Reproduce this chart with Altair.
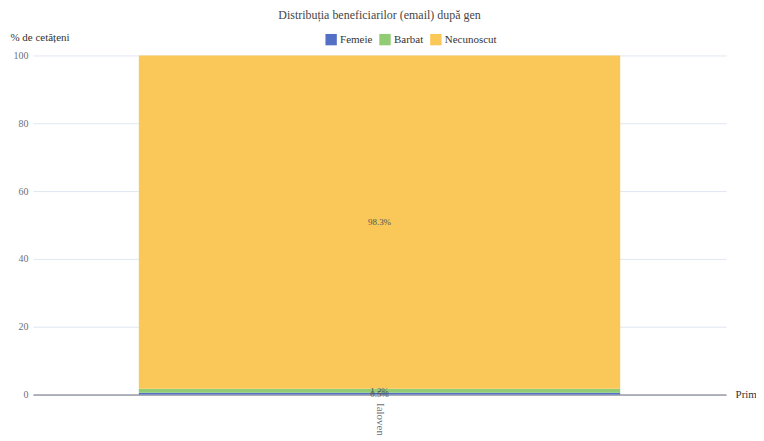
import altair as alt
import pandas as pd

categories = ["Ialoveni"]
series = ["Femeie", "Barbat", "Necunoscut"]
values = [0.5, 1.2, 98.3]
colors = ["#5470c6", "#91cc75", "#fac858"]

df = pd.DataFrame({
    "cat": [categories[0]] * len(series),
    "gen": series,
    "val": values,
    "ord": list(range(len(series))),
})
df["lbl"] = [f"{v}%" for v in values]

FONT = "Liberation Serif"

base = alt.Chart(df).transform_stack(
    stack="val", groupby=["cat"], as_=["v0", "v1"], sort=[alt.SortField("ord", order="ascending")]
).transform_calculate(vm="(datum.v0 + datum.v1) / 2")

xscale = alt.Scale(paddingInner=0, paddingOuter=0.22)
yscale = alt.Scale(domain=[0, 100])

xenc = alt.X("cat:N", title="Primăria", scale=xscale,
             axis=alt.Axis(labelAngle=90, labelAlign="left", labelBaseline="middle",
                           labelFont=FONT, labelFontSize=11, labelColor="#6E7079",
                           labelPadding=8, ticks=False, domainColor="#6E7079", grid=False,
                           titleFont=FONT, titleFontSize=11, titleFontWeight="normal",
                           titleColor="#333333", titleX=704, titleY=0,
                           titleAlign="left", titleBaseline="middle", titleAngle=0))

bars = base.mark_bar().encode(
    x=xenc,
    y=alt.Y("v0:Q", title="% de cetățeni", scale=yscale,
            axis=alt.Axis(values=[0, 20, 40, 60, 80, 100], grid=True, gridColor="#E0E6F1",
                          domain=False, ticks=False, labelFont=FONT, labelFontSize=10,
                          labelColor="#6E7079", labelPadding=5,
                          titleFont=FONT, titleFontSize=11, titleFontWeight="normal",
                          titleColor="#333333", titleAngle=0, titleX=-23, titleY=-18,
                          titleAlign="left", titleBaseline="middle")),
    y2="v1:Q",
    color=alt.Color("gen:N", sort=series,
                    scale=alt.Scale(domain=series, range=colors),
                    legend=alt.Legend(title=None, orient="none", direction="horizontal",
                                      legendX=293, legendY=-22, symbolType="square",
                                      symbolSize=130, symbolStrokeWidth=0, symbolOpacity=1,
                                      labelFont=FONT, labelFontSize=11, labelColor="#333333",
                                      columnPadding=6, labelOffset=3)),
    order=alt.Order("ord:Q"),
)

texts = base.mark_text(font=FONT, fontSize=9, color="#555555").encode(
    x=alt.X("cat:N"),
    y=alt.Y("vm:Q"),
    text="lbl:N",
)

chart = alt.layer(bars, texts).properties(
    width=695, height=340,
    background="white",
    title=alt.TitleParams("Distribuția beneficiarilor (email) după gen", font=FONT, fontSize=12,
                          fontWeight="normal", color="#464646", anchor="middle", offset=10),
    autosize=alt.AutoSizeParams(type="none"),
    padding={"left": 25, "top": 47, "right": 30, "bottom": 40},
).configure_view(strokeWidth=0).configure_axisX(grid=False)

chart.save("out.html", embed_options={"renderer": "svg", "actions": False})
